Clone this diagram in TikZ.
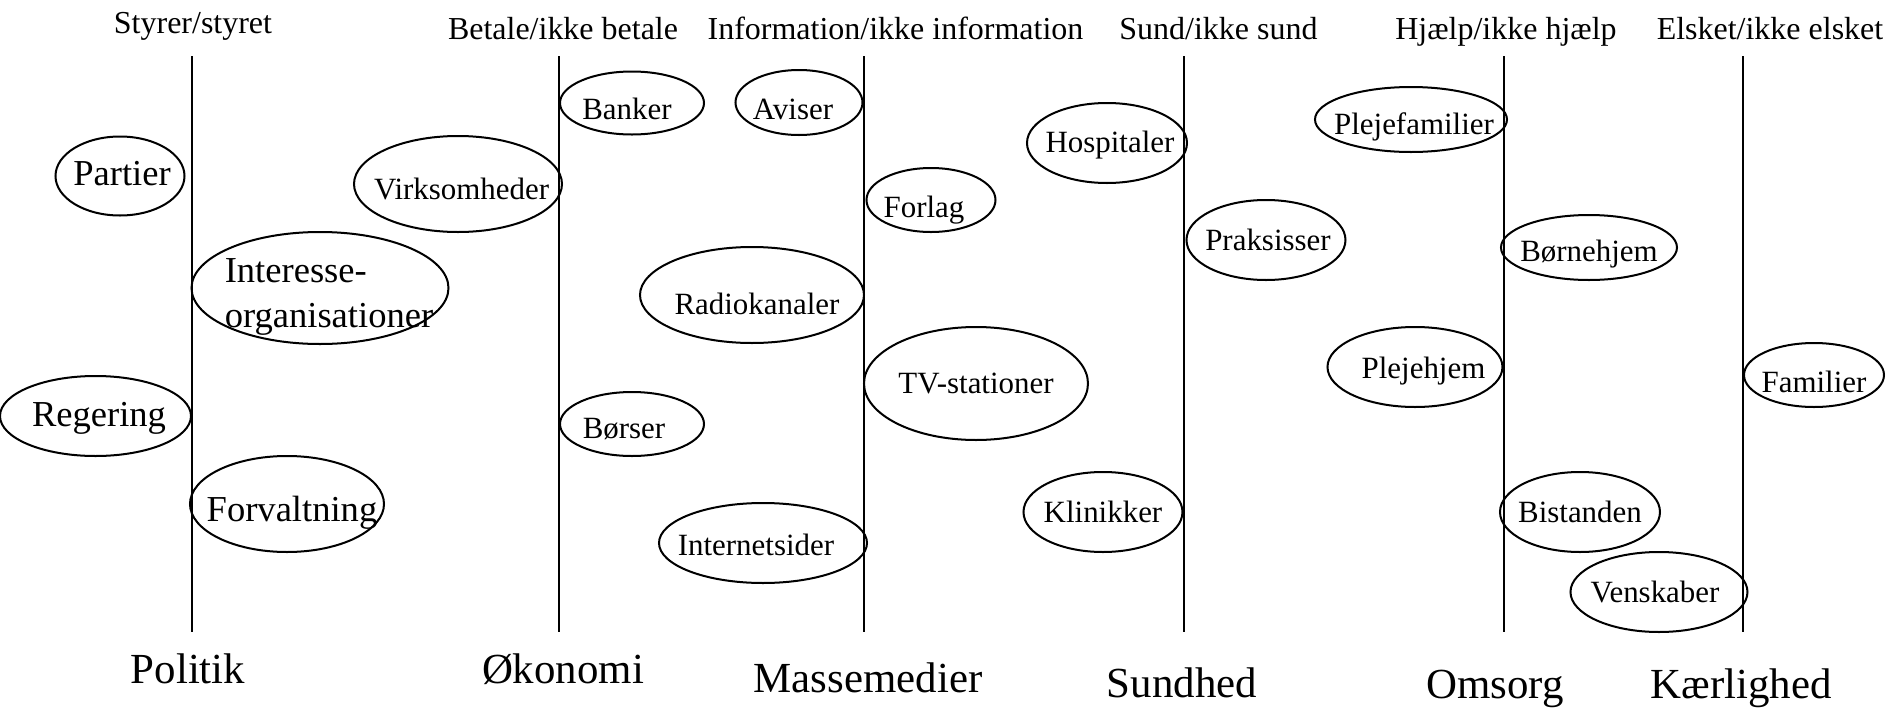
\documentclass[tikz,border=0pt]{standalone}
\usepackage{fontspec}
\setmainfont{Liberation Serif}
\usetikzlibrary{shapes.geometric}
\begin{document}
\begin{tikzpicture}[line width=0.57pt,
        ell/.style = {draw, ellipse, inner sep=0pt},
        txt/.style = {font=\fontsize{8.8}{10.5}\selectfont},
        big/.style = {font=\fontsize{10.4}{12.8}\selectfont},
        head/.style = {font=\fontsize{9.1}{11}\selectfont, anchor=base},
        area/.style = {font=\fontsize{12.2}{14}\selectfont, anchor=base},
        every label/.style = {txt}]
        \useasboundingbox (0,0) rectangle (18.95,7.09);

        \draw (1.92,6.53) -- (1.92,0.77);
        \draw (5.59,6.53) -- (5.59,0.77);
        \draw (8.64,6.53) -- (8.64,0.77);
        \draw (11.84,6.53) -- (11.84,0.77);
        \draw (15.04,6.53) -- (15.04,0.77);
        \draw (17.43,6.53) -- (17.43,0.77);

        \node[head] (styrer) at (1.93,6.76) {Styrer/styret};
        \node[head] (betale) at (5.63,6.70) {Betale/ikke betale};
        \node[head] (information) at (8.955,6.70) {Information/ikke information};
        \node[head] (sund) at (12.185,6.70) {Sund/ikke sund};
        \node[head] (hjaelp) at (15.06,6.70) {Hjælp/ikke hjælp};
        \node[head] (elsket) at (17.70,6.70) {Elsket/ikke elsket};

        \node[ell, minimum width=1.29cm, minimum height=0.79cm, label={[big,xshift=0.02cm,yshift=0.02cm]center:Partier}] (partier) at (1.20,5.33) {};
        \node[ell, minimum width=1.91cm, minimum height=0.80cm, label={[big,xshift=0.035cm,yshift=-0.02cm]center:Regering}] (regering) at (0.955,2.93) {};
        \node[ell, minimum width=2.57cm, minimum height=1.12cm, label={[big,align=left,xshift=0.09cm,yshift=-0.085cm]center:Interesse-\\organisationer}] (interesse) at (3.20,4.21) {};
        \node[ell, minimum width=1.94cm, minimum height=0.96cm, label={[big,xshift=0.05cm,yshift=-0.085cm]center:Forvaltning}] (forvaltning) at (2.87,2.05) {};

        \node[ell, minimum width=2.08cm, minimum height=0.96cm, label={[xshift=0.036cm,yshift=-0.05cm]center:Virksomheder}] (virksomheder) at (4.58,5.25) {};
        \node[ell, minimum width=1.44cm, minimum height=0.63cm, label={[xshift=-0.05cm,yshift=-0.06cm]center:Banker}] (banker) at (6.32,6.06) {};
        \node[ell, minimum width=1.44cm, minimum height=0.64cm, label={[xshift=-0.08cm,yshift=-0.05cm]center:Børser}] (boerser) at (6.32,2.85) {};

        \node[ell, minimum width=1.27cm, minimum height=0.65cm, label={[xshift=-0.06cm,yshift=-0.07cm]center:Aviser}] (aviser) at (7.99,6.065) {};
        \node[ell, minimum width=2.24cm, minimum height=0.96cm, label={[xshift=0.05cm,yshift=-0.085cm]center:Radiokanaler}] (radio) at (7.52,4.14) {};
        \node[ell, minimum width=2.08cm, minimum height=0.80cm, label={[xshift=-0.07cm,yshift=-0.02cm]center:Internetsider}] (internet) at (7.63,1.66) {};
        \node[ell, minimum width=1.29cm, minimum height=0.64cm, label={[xshift=-0.07cm,yshift=-0.10cm]center:Forlag}] (forlag) at (9.31,5.09) {};
        \node[ell, minimum width=2.24cm, minimum height=1.13cm, label=center:TV-stationer] (tv) at (9.76,3.255) {};

        \node[ell, minimum width=1.60cm, minimum height=0.80cm, label={[xshift=0.03cm,yshift=-0.02cm]center:Hospitaler}] (hospitaler) at (11.07,5.66) {};
        \node[ell, minimum width=1.59cm, minimum height=0.80cm, label=center:Klinikker] (klinikker) at (11.03,1.97) {};
        \node[ell, minimum width=1.59cm, minimum height=0.80cm, label={[xshift=0.02cm]center:Praksisser}] (praksisser) at (12.66,4.69) {};

        \node[ell, minimum width=1.92cm, minimum height=0.65cm, label={[xshift=0.03cm,yshift=-0.07cm]center:Plejefamilier}] (plejefamilier) at (14.11,5.895) {};
        \node[ell, minimum width=1.75cm, minimum height=0.80cm, label={[xshift=0.085cm,yshift=-0.04cm]center:Plejehjem}] (plejehjem) at (14.15,3.42) {};
        \node[ell, minimum width=1.76cm, minimum height=0.65cm, label={[yshift=-0.07cm]center:Børnehjem}] (boernehjem) at (15.89,4.615) {};
        \node[ell, minimum width=1.60cm, minimum height=0.80cm, label=center:Bistanden] (bistanden) at (15.80,1.97) {};
        \node[ell, minimum width=1.77cm, minimum height=0.80cm, label={[xshift=-0.04cm]center:Venskaber}] (venskaber) at (16.59,1.17) {};
        \node[ell, minimum width=1.40cm, minimum height=0.64cm, label={[yshift=-0.07cm]center:Familier}] (familier) at (18.14,3.34) {};

        \node[area] (politik) at (1.88,0.26) {Politik};
        \node[area] (oekonomi) at (5.63,0.26) {Økonomi};
        \node[area] (massemedier) at (8.68,0.17) {Massemedier};
        \node[area] (sundhed) at (11.82,0.12) {Sundhed};
        \node[area] (omsorg) at (14.95,0.11) {Omsorg};
        \node[area] (kaerlighed) at (17.41,0.11) {Kærlighed};

    \end{tikzpicture}
\end{document}
